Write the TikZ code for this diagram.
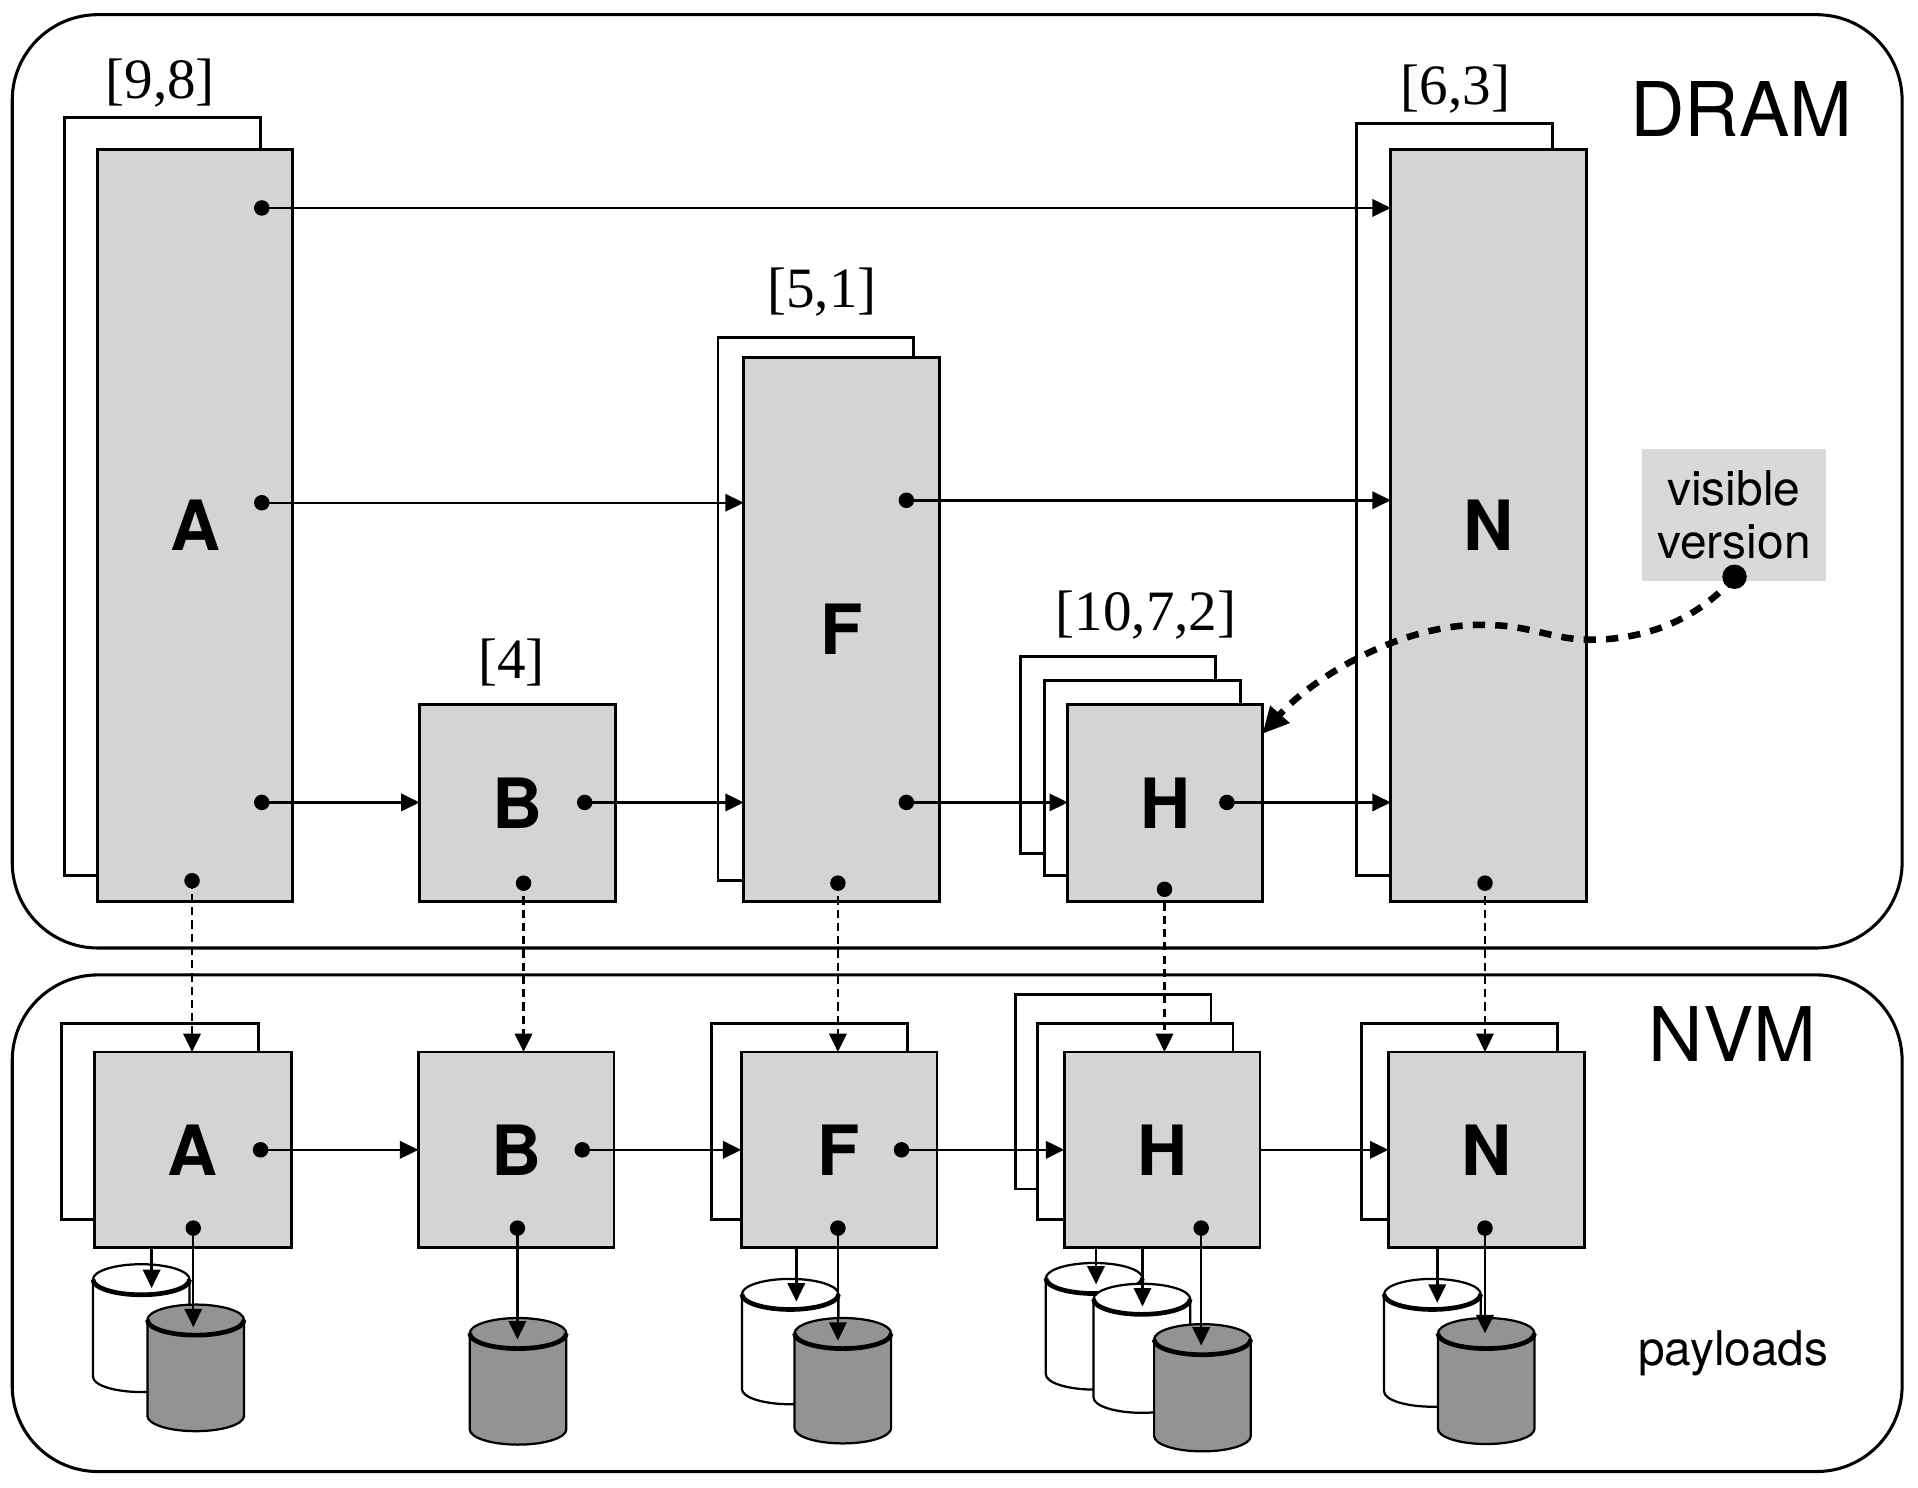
\documentclass[tikz,border=0pt]{standalone}
\usepackage{fontspec}
\setmainfont{Liberation Serif}
\newfontfamily\heros{TeX Gyre Heros}
\usetikzlibrary{arrows.meta}
\definecolor{boxgray}{HTML}{D4D4D4}
\definecolor{cylgray}{HTML}{939393}
\definecolor{visgray}{HTML}{D9D9D9}

% rectangle node from corners: style, name, x1, y1, x2, y2, text
\newcommand{\rbox}[7]{\node[#1, anchor=north west, minimum width={(#5-#3)*0.6pt}, minimum height={(#6-#4)*0.6pt}] (#2) at (#3,#4) {#7};}
% cylinder: name, cx, top y, bottom y, fill
\newcommand{\cyl}[5]{%
  \filldraw[fill=#5, line width=1.1pt] (#2-39.5,#3) -- (#2-39.5,#4) arc[start angle=180,end angle=360,x radius=23.7pt,y radius=7.5pt] -- (#2+39.5,#3) arc[start angle=0,end angle=180,x radius=23.7pt,y radius=7.5pt] -- cycle;
  \draw[line width=2.3pt] (#2-39.5,#3) arc[start angle=180,end angle=360,x radius=23.7pt,y radius=7.5pt];
  \coordinate (#1) at (#2,#3);}
\newcommand{\dotat}[3]{\coordinate (#1) at (#2,#3);}

\tikzset{
  region/.style={draw, line width=1.5pt, rounded corners=42pt, inner sep=0pt, outer sep=0pt},
  backbox/.style={draw, line width=1.4pt, fill=white, inner sep=0pt, outer sep=0pt},
  frontbox/.style={draw, line width=1.4pt, fill=boxgray, inner sep=0pt, outer sep=0pt, font=\heros\bfseries\fontsize{34}{34}\selectfont},
  arr/.style={-{Triangle[length=9pt,width=8.5pt]}, line width=1.2pt},
  darr/.style={arr, dash pattern=on 4pt off 2.5pt},
  lbl/.style={font=\fontsize{28}{28}\selectfont, inner sep=0pt},
  big/.style={font=\heros\fontsize{37}{37}\selectfont, inner sep=0pt, anchor=base},
}

\begin{document}
\begin{tikzpicture}[x=0.6pt,y=-0.6pt]
\useasboundingbox (0,0) rectangle (1568,1216);
\fill[white] (0,0) rectangle (1568,1216);

% regions
\rbox{region}{dram}{10}{12}{1555}{775}{}
\rbox{region}{nvm}{10}{797}{1555}{1203}{}
\node[big] (dramlbl) at (1423.5,112) {DRAM};
\node[big] (nvmlbl) at (1416.5,868) {NVM};
\node[anchor=base, inner sep=0pt, font=\heros\fontsize{23.5}{24}\selectfont] (pay) at (1417,1116) {payloads};

% DRAM boxes
\rbox{backbox}{Ab}{53}{96}{213}{716}{}
\rbox{frontbox}{A}{80}{122}{239}{737}{A}
\rbox{frontbox}{B}{343}{576}{503}{737}{B}
\rbox{backbox}{Fb}{587}{276}{747}{720}{}
\rbox{frontbox}{F}{608}{292}{768}{737}{F}
\rbox{backbox}{Hb1}{834}{537}{994}{698}{}
\rbox{backbox}{Hb2}{854}{556}{1014}{716}{}
\rbox{frontbox}{H}{873}{576}{1032}{737}{H}
\rbox{backbox}{Nb}{1109}{101}{1269}{716}{}
\rbox{frontbox}{N}{1137}{122}{1297}{737}{N}

\node[lbl] (l98) at (131,68) {[9,8]};
\node[lbl] (l4) at (418,542) {[4]};
\node[lbl] (l51) at (672,239) {[5,1]};
\node[lbl] (l1072) at (937,503) {[10,7,2]};
\node[lbl] (l63) at (1190,73) {[6,3]};

% visible version
\node[fill=visgray, minimum width=90.6pt, minimum height=64.8pt, inner sep=0pt, align=center, font=\heros\fontsize{23.5}{26}\selectfont] (vis) at (1417.5,421) {visible\\version};

% NVM boxes
\rbox{backbox}{nAb}{50}{837}{211}{997}{}
\rbox{frontbox}{nA}{77}{860}{238}{1020}{A}
\rbox{frontbox}{nB}{342}{860}{502}{1020}{B}
\rbox{backbox}{nFb}{582}{837}{742}{997}{}
\rbox{frontbox}{nF}{606}{860}{766}{1020}{F}
\rbox{backbox}{nHb1}{830}{813}{990}{972}{}
\rbox{backbox}{nHb2}{848}{837}{1008}{997}{}
\rbox{frontbox}{nH}{870}{860}{1030}{1020}{H}
\rbox{backbox}{nNb}{1113}{837}{1273}{997}{}
\rbox{frontbox}{nN}{1135}{860}{1295}{1020}{N}

% cylinders
\cyl{cAw}{115.5}{1046}{1125.5}{white}
\cyl{cAg}{160}{1079}{1157.5}{cylgray}
\cyl{cBg}{423.5}{1090}{1168.5}{cylgray}
\cyl{cFw}{646}{1058}{1135.5}{white}
\cyl{cFg}{689}{1090}{1167.5}{cylgray}
\cyl{cHw1}{894.5}{1045}{1123.5}{white}
\cyl{cHw2}{933.5}{1062}{1142.5}{white}
\cyl{cHg}{983}{1095}{1174}{cylgray}
\cyl{cNw}{1171}{1058}{1137.5}{white}
\cyl{cNg}{1215}{1090}{1168}{cylgray}

% dots (DRAM)
\dotat{dA1}{214}{170}
\dotat{dA2}{214}{411}
\dotat{dA3}{214}{656}
\dotat{dA4}{157}{720}
\dotat{dB1}{478}{656}
\dotat{dB2}{428}{722}
\dotat{dF1}{741}{409}
\dotat{dF2}{741}{656}
\dotat{dF3}{685}{722}
\dotat{dH1}{1003}{656}
\dotat{dH2}{952}{727}
\dotat{dN1}{1214}{722}
% dots (NVM)
\dotat{nA1}{213}{940}
\dotat{nA2}{158}{1004}
\dotat{nB1}{476}{940}
\dotat{nB2}{423}{1004}
\dotat{nF1}{737}{940}
\dotat{nF2}{685}{1004}
\dotat{nH2}{982}{1004}
\dotat{nN2}{1214}{1004}

% cylinder arrow ends
\coordinate (sAw) at (124,1020);   \coordinate (tAw) at (124,1053);
\coordinate (tAg) at (158,1085);
\coordinate (tBg) at (423,1095);
\coordinate (sFw) at (651,1020);   \coordinate (tFw) at (651,1064);
\coordinate (tFg) at (685,1096);
\coordinate (sHw1) at (896,1020);  \coordinate (tHw1) at (896,1050);
\coordinate (sHw2) at (934,1020);  \coordinate (tHw2) at (934,1068);
\coordinate (tHg) at (982,1100);
\coordinate (sNw) at (1175,1020);  \coordinate (tNw) at (1175,1065);
\coordinate (tNg) at (1214,1090);

% DRAM arrows
\draw[arr] (dA1) -- (N.west |- dA1);
\draw[arr] (dA2) -- (F.west |- dA2);
\draw[arr] (dF1) -- (N.west |- dF1);
\draw[arr] (dA3) -- (B.west |- dA3);
\draw[arr] (dB1) -- (F.west |- dB1);
\draw[arr] (dF2) -- (H.west |- dF2);
\draw[arr] (dH1) -- (N.west |- dH1);

% DRAM -> NVM
\draw[darr] (dA4) -- (nA.north -| dA4);
\draw[darr] (dB2) -- (nB.north -| dB2);
\draw[darr] (dF3) -- (nF.north -| dF3);
\draw[darr] (dH2) -- (nH.north -| dH2);
\draw[darr] (dN1) -- (nN.north -| dN1);

% NVM arrows
\draw[arr] (nA1) -- (nB.west |- nA1);
\draw[arr] (nB1) -- (nF.west |- nB1);
\draw[arr] (nF1) -- (nH.west |- nF1);
\draw[arr] (nH.east) -- (nN.west);

% payload arrows
\draw[arr] (sAw) -- (tAw);
\draw[arr] (nA2) -- (tAg);
\draw[arr] (nB2) -- (tBg);
\draw[arr] (sFw) -- (tFw);
\draw[arr] (nF2) -- (tFg);
\draw[arr] (sHw1) -- (tHw1);
\draw[arr] (sHw2) -- (tHw2);
\draw[arr] (nH2) -- (tHg);
\draw[arr] (sNw) -- (tNw);
\draw[arr] (nN2) -- (tNg);

% dots drawn
\foreach \d in {dA1,dA2,dA3,dA4,dB1,dB2,dF1,dF2,dF3,dH1,dH2,dN1,nA1,nA2,nB1,nB2,nF1,nF2,nH2,nN2}
  \fill (\d) circle[radius=3.8pt];

% visible version pointer
\coordinate (vdot) at (1418,471.5);
\coordinate (Htgt) at (1032,600);
\draw[line width=3.2pt, dash pattern=on 6pt off 5pt, -{Triangle[length=13pt,width=12pt]}]
  (vdot) .. controls (1385,510) and (1340,523) .. (1300,523)
         .. controls (1270,523) and (1250,511) .. (1216,511)
         .. controls (1150,508) and (1075,552) .. (Htgt);
\fill (vdot) circle[radius=6pt];
\end{tikzpicture}
\end{document}
